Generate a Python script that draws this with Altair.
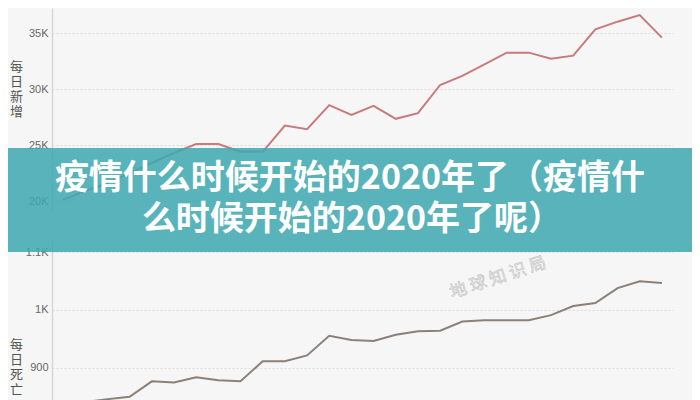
import altair as alt
import pandas as pd

# ---- data ----
days = list(range(28))
new_cases = [20100, 20900, 21600, 22500, 23400, 24300, 25100, 25100, 24400, 24400,
             26750, 26430, 28570, 27700, 28510, 27350, 27860, 30380, 31190, 32230,
             33270, 33270, 32730, 33000, 35360, 36040, 36630, 34610]
death_days = list(range(1, 28))
deaths = [840, 845, 849, 876, 874, 883, 878, 876, 911, 911, 921, 955, 948, 946,
          957, 963, 964, 980, 982, 982, 982, 991, 1007, 1012, 1038, 1050, 1047]
top_ticks = [20000, 25000, 30000, 35000]
bottom_ticks = [900, 1000, 1100]
grid_days = list(range(0, 29, 2))
title_top = ["每", "日", "新", "增"]
title_bottom = ["每", "日", "死", "亡"]
banner_line1 = "疫情什么时候开始的2020年了（疫情什"
banner_line2 = "么时候开始的2020年了呢）"
watermark = "地 球 知 识 局"

df_top = pd.DataFrame({"d": [d + 0.5 for d in days], "v": new_cases})
df_bot = pd.DataFrame({"d": [d + 0.5 for d in death_days], "v": deaths})
df_one = pd.DataFrame({"a": [0]})

W, H = 621, 392
PAD_L, PAD_R = 44, 19
BG = "#f6f6f6"

label_expr = ("datum.value >= 1000 ? format(datum.value / 1000, '.2~f') + 'K' "
              ": format(datum.value, 'd')")

x_enc = alt.X(
    "d:Q",
    scale=alt.Scale(domain=[0, 28], nice=False, zero=False),
    axis=alt.Axis(values=grid_days, labels=False, ticks=False, domain=False,
                  title=None, grid=True, gridDash=[2, 2], gridColor="#dadada"),
)

common_axis = dict(
    orient="left", ticks=False, labelPadding=4, labelFontSize=11,
    labelColor="#666666", labelFont="Liberation Sans",
    domainColor="#d6d6d6", domainWidth=1.5,
    grid=True, gridDash=[2, 2], gridColor="#dcdcdc",
    titleAngle=0, titleAlign="center", titleBaseline="top",
    titleFontSize=13, titleLineHeight=15, titleColor="#555555",
    titleFont="Noto Sans CJK SC", titleFontWeight="normal",
    labelExpr=label_expr,
)

top = alt.Chart(df_top).mark_line(color="#c77b7b", strokeWidth=2).encode(
    x=x_enc,
    y=alt.Y("v:Q",
            scale=alt.Scale(domain=[19106, 37263], range=[203, 0], nice=False, zero=False),
            axis=alt.Axis(values=top_ticks, title=title_top, titleX=-36, titleY=52,
                          **common_axis)),
)

bottom = alt.Chart(df_bot).mark_line(color="#8b8178", strokeWidth=2).encode(
    x=alt.X("d:Q", axis=None),
    y=alt.Y("v:Q",
            scale=alt.Scale(domain=[843.5, 1121.7], range=[392, 232], nice=False, zero=False),
            axis=alt.Axis(values=bottom_ticks, title=title_bottom, titleX=-36, titleY=330,
                          **common_axis)),
)

wm = alt.Chart(df_one).mark_text(
    text=watermark, fontSize=17, font="Noto Sans CJK SC", angle=342,
    fill="#eeeeee", stroke="#c4c4c4", strokeWidth=0.6,
    align="center", baseline="middle",
).encode(x=alt.value(446), y=alt.value(270))

banner = alt.Chart(df_one).mark_rect(fill="#3ca8af", opacity=0.85).encode(
    x=alt.value(-PAD_L), x2=alt.value(W + PAD_R), y=alt.value(140), y2=alt.value(244)
)

t1 = alt.Chart(df_one).mark_text(
    text=banner_line1, fontSize=34, font="Noto Sans CJK SC", fontWeight="bold",
    color="white", align="center", baseline="middle",
).encode(x=alt.value(298), y=alt.value(171))

t2 = alt.Chart(df_one).mark_text(
    text=banner_line2, fontSize=34, font="Noto Sans CJK SC", fontWeight="bold",
    color="white", align="center", baseline="middle",
).encode(x=alt.value(300), y=alt.value(212))

chart = alt.layer(top, bottom, wm, banner, t1, t2).resolve_scale(
    y="independent"
).properties(
    width=W, height=H,
    autosize=alt.AutoSizeParams(type="none"),
    padding={"left": PAD_L, "top": 0, "right": PAD_R, "bottom": 0},
    background=BG,
).configure_view(strokeWidth=0, fill=BG)

chart.save("out.html", embed_options={"renderer": "svg", "actions": False})
